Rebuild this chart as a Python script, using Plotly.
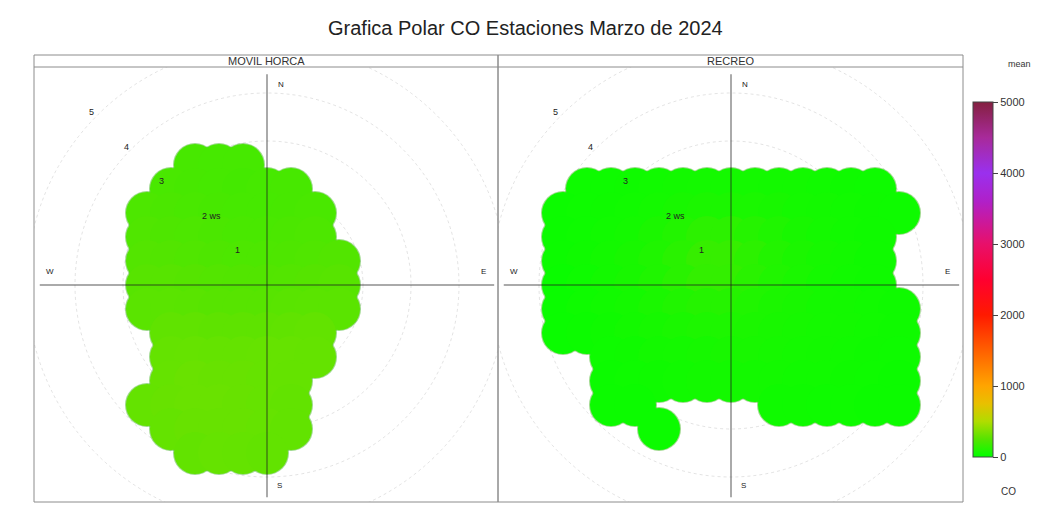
import plotly.graph_objects as go

W, H = 1039, 506

# malla de la superficie polar: cada fila tiene v constante (componente N, m/s),
# celdas cada 0.5 m/s en u (componente E) desde u0; valor = CO medio
paso = 0.5

movil_v = [2.5, 2.0, 1.5, 1.0, 0.5, 0.0, -0.5, -1.0, -1.5, -2.0, -2.5, -3.0, -3.5]
movil_u0 = [-1.5, -2.0, -2.5, -2.5, -2.5, -2.5, -2.5, -2.0, -2.0, -2.0, -2.5, -2.0, -1.5]
movil_co = [
    [210, 205, 205],
    [215, 210, 205, 200, 205, 210],
    [225, 220, 215, 210, 205, 205, 210, 215],
    [235, 230, 225, 220, 215, 215, 220, 225],
    [245, 240, 235, 230, 225, 225, 230, 235, 240],
    [255, 255, 250, 245, 240, 240, 245, 250, 255],
    [265, 265, 260, 255, 255, 255, 260, 265, 265],
    [280, 280, 275, 275, 275, 280, 285],
    [290, 295, 290, 290, 295, 295, 290],
    [295, 305, 300, 300, 295, 290],
    [290, 300, 305, 305, 300, 295, 285],
    [290, 300, 300, 300, 295, 285],
    [285, 295, 290, 285],
]

recreo_v = [2.0, 1.5, 1.0, 0.5, 0.0, -0.5, -1.0, -1.5, -2.0, -2.5, -3.0]
recreo_u0 = [-3.0, -3.5, -3.5, -3.5, -3.5, -3.5, -3.5, -2.5, -2.5, -2.5, -1.5]
recreo_co = [
    [40, 40, 45, 50, 55, 60, 60, 60, 55, 55, 50, 45, 40],
    [35, 40, 45, 50, 60, 70, 80, 80, 75, 70, 60, 55, 50, 45, 40],
    [35, 40, 50, 60, 80, 100, 130, 130, 110, 90, 70, 60, 50, 45],
    [35, 45, 55, 70, 90, 120, 160, 160, 130, 100, 80, 65, 55, 45],
    [30, 40, 55, 70, 90, 120, 150, 150, 120, 95, 75, 60, 50, 45],
    [30, 40, 50, 60, 75, 95, 110, 110, 95, 80, 70, 60, 55, 50, 45],
    [30, 35, 45, 55, 65, 75, 85, 85, 80, 70, 65, 60, 55, 50, 45],
    [40, 45, 55, 60, 65, 70, 70, 65, 60, 55, 50, 45, 40],
    [35, 40, 45, 50, 55, 55, 55, 55, 50, 50, 45, 40, 35],
    [35, 35, None, None, None, None, None, 45, 45, 40, 40, 35, 35],
    [35],
]

paneles = ['MOVIL HORCA', 'RECREO']
ws_labels = [1, 2, 3, 4, 5]
co_ticks = [0, 1000, 2000, 3000, 4000, 5000]

escala = [
    [0.0, '#00ff00'], [0.05, '#55e400'], [0.1, '#b0dc00'], [0.15, '#e8c000'],
    [0.2, '#ffa500'], [0.3, '#ff6000'], [0.4, '#ff1a00'], [0.5, '#ff0030'],
    [0.6, '#e8106a'], [0.72, '#b020c8'], [0.8, '#9a30ee'], [0.9, '#a82a9a'],
    [1.0, '#842040'],
]


def celdas(vs, u0s, filas):
    us, vv, cc = [], [], []
    for v, u0, fila in zip(vs, u0s, filas):
        for i, c in enumerate(fila):
            if c is None:
                continue
            us.append(u0 + paso * i)
            vv.append(v)
            cc.append(c)
    return us, vv, cc


# geometria en pixeles de pantalla (la pagina desplaza la figura 8 px)
OFF = 8


def fx(X):
    return (X - OFF) / W


def fy(Y):
    return 1 - (Y - OFF) / H


px_ws = 48.0
strip_top, top, bottom = 55, 67, 502
cy = 285
cajas = [(34, 498, 267), (498, 963, 731)]

fuente = 'Liberation Sans, Arial, sans-serif'
fig = go.Figure()
shapes, anns = [], []


def texto(txt, x, y, size, xref='paper', yref='paper', color='#222', **kw):
    d = dict(text=txt, xref=xref, yref=yref, x=x, y=y, showarrow=False,
             xanchor='center', yanchor='middle',
             font=dict(size=size, color=color, family=fuente))
    d.update(kw)
    anns.append(d)


datos = [celdas(movil_v, movil_u0, movil_co), celdas(recreo_v, recreo_u0, recreo_co)]

for k, ((x0, x1, cx), (us, vv, cc)) in enumerate(zip(cajas, datos)):
    sx = '' if k == 0 else str(k + 1)
    xr, yr = 'x' + sx, 'y' + sx
    # borde suave del contorno
    fig.add_trace(go.Scatter(
        x=us, y=vv, xaxis=xr, yaxis=yr, mode='markers', hoverinfo='skip',
        marker=dict(size=44, color='rgba(40,170,0,0.45)', line=dict(width=0)),
        showlegend=False))
    fig.add_trace(go.Scatter(
        x=us, y=vv, xaxis=xr, yaxis=yr, mode='markers', hoverinfo='skip',
        marker=dict(size=42, color=cc, colorscale=escala, cmin=0, cmax=5000,
                    line=dict(width=0), opacity=1,
                    showscale=(k == 1),
                    colorbar=dict(
                        x=fx(973), xanchor='left', xpad=0, thickness=20,
                        y=fy((102 + 457) / 2), yanchor='middle', ypad=0,
                        len=355, lenmode='pixels',
                        tickvals=co_ticks, ticks='outside', ticklen=5,
                        tickcolor='#444', tickfont=dict(size=11, color='#333', family=fuente),
                        outlinecolor='#444', outlinewidth=1)),
        showlegend=False))

    xmin, xmax = (x0 - cx) / px_ws, (x1 - cx) / px_ws
    ymin, ymax = (cy - bottom) / px_ws, (cy - top) / px_ws
    eje = dict(range=[xmin, xmax], domain=[fx(x0), fx(x1)], visible=False, fixedrange=True)
    ejey = dict(range=[ymin, ymax], domain=[fy(bottom), fy(top)], visible=False,
                fixedrange=True)
    fig.update_layout(**{'xaxis' + sx: dict(eje, anchor=yr),
                         'yaxis' + sx: dict(ejey, anchor=xr)})

    # circulos de velocidad
    for r in ws_labels:
        shapes.append(dict(type='circle', xref=xr, yref=yr, x0=-r, x1=r, y0=-r, y1=r,
                           line=dict(color='rgba(175,175,175,0.35)', width=1, dash='dot'),
                           layer='below'))
    # ejes N-S y E-W
    shapes.append(dict(type='line', xref=xr, yref=yr, x0=xmin + 0.12, x1=xmax - 0.08, y0=0, y1=0,
                       line=dict(color='rgba(30,30,30,0.5)', width=1.5)))
    shapes.append(dict(type='line', xref=xr, yref=yr, x0=0, x1=0, y0=ymin + 0.1, y1=ymax - 0.15,
                       line=dict(color='rgba(30,30,30,0.5)', width=1.5)))
    # marco del panel y franja
    shapes.append(dict(type='rect', xref='paper', yref='paper', x0=fx(x0), x1=fx(x1),
                       y0=fy(bottom), y1=fy(strip_top),
                       line=dict(color='#8c8c8c', width=1)))
    shapes.append(dict(type='line', xref='paper', yref='paper', x0=fx(x0), x1=fx(x1),
                       y0=fy(top), y1=fy(top), line=dict(color='#8c8c8c', width=1)))
    texto(paneles[k], fx((x0 + x1) / 2), fy((strip_top + top) / 2 + 0.5), 11, color='#333')

    # puntos cardinales
    for txt, ux, uy in [('N', 0.3, 4.17), ('E', 4.5, 0.29), ('S', 0.25, -4.18), ('W', -4.53, 0.29)]:
        texto(txt, ux, uy, 8, xref=xr, yref=yr)
    # etiquetas de velocidad
    for r in ws_labels:
        d = r * 0.707 * 1.02
        if r == 2:
            texto('2 ws', -d, d, 9, xref=xr, yref=yr, xanchor='left', xshift=2)
        elif r == 1:
            texto('1', -d, d, 9, xref=xr, yref=yr, xshift=5)
        else:
            texto(str(r), -d, d, 9, xref=xr, yref=yr, xshift=-2)

texto('Grafica Polar CO Estaciones Marzo de 2024', fx(525), fy(28), 20)
texto('mean', fx(1019), fy(64), 9, color='#333')
texto('CO', fx(1008), fy(491), 10, color='#333')

fig.update_layout(width=W, height=H, margin=dict(l=0, r=0, t=0, b=0),
                  paper_bgcolor='white', plot_bgcolor='white',
                  shapes=shapes, annotations=anns, font=dict(family=fuente))

fig.write_html("out.html")
